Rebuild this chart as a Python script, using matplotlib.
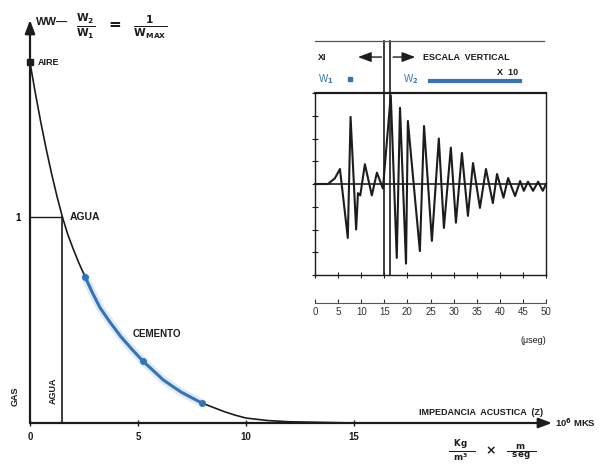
import matplotlib.pyplot as plt

plt.rcParams['font.family'] = ['Liberation Sans', 'DejaVu Sans']
plt.rcParams['mathtext.default'] = 'bf'

# curva principal: impedancia acustica Z (10^6 MKS) frente a W
z_imp = [0, 0.25, 0.5, 0.75, 1.0, 1.25, 1.5, 1.75, 2.0, 2.25, 2.55, 2.9, 3.24,
         3.7, 4.2, 4.7, 5.23, 5.7, 6.16, 6.6, 7.0, 7.5, 7.96, 8.5, 9.0, 9.5,
         10.0, 11.0, 12.0, 13.5, 15.0]
w_rel = [1.75, 1.6, 1.46, 1.33, 1.21, 1.1, 1.0, 0.915, 0.845, 0.78, 0.71, 0.63,
         0.56, 0.49, 0.42, 0.36, 0.30, 0.255, 0.21, 0.178, 0.15, 0.122, 0.097,
         0.075, 0.055, 0.038, 0.024, 0.012, 0.006, 0.003, 0.0]
# tramo del cemento (azul)
z_cem = [2.55, 2.9, 3.24, 3.7, 4.2, 4.7, 5.23, 5.7, 6.16, 6.6, 7.0, 7.5, 7.96]
w_cem = [0.71, 0.63, 0.56, 0.49, 0.42, 0.36, 0.30, 0.255, 0.21, 0.178, 0.15,
         0.122, 0.097]
z_agua = 1.5
w_aire = 1.75
z_ticks = [0, 5, 10, 15]

# forma de onda del recuadro (microsegundos)
t_us = [0, 2.8, 4.3, 5.4, 7.1, 7.7, 8.9, 9.3, 9.8, 10.8, 12.3, 13.4, 14.7,
        16.4, 17.7, 18.4, 19.7, 20.1, 22.7, 23.6, 25.3, 26.8, 27.9, 29.4,
        30.5, 31.8, 33.1, 34.2, 35.7, 37.0, 38.5, 39.4, 40.8, 41.8, 43.3,
        44.4, 45.2, 46.1, 47.2, 48.3, 49.3, 50]
amp = [0, 0, 0.25, 0.66, -2.37, 2.95, -2.0, -0.4, -0.5, 0.87, -0.5, 0.5, -0.2,
       3.9, -3.25, 3.35, -3.5, 2.77, -2.95, 2.55, -2.5, 2.0, -1.93, 1.6,
       -1.7, 1.36, -1.4, 0.92, -1.05, 0.66, -0.84, 0.44, -0.6, 0.26, -0.53,
       0.13, -0.3, 0.1, -0.3, 0.1, -0.3, 0.0]
t_ticks = list(range(0, 51, 5))
t_win = [15, 16.3]

BLUE = '#3574b8'
INK = '#1c1c1c'

fig = plt.figure(figsize=(6, 4.66), dpi=100)
W, H = 600, 466


def px(x, y):
    return x / W, 1 - y / H


# ---- grafico principal ----
ax = fig.add_axes([30 / W, 43 / H, 522 / W, 403 / H])
ax.set_xlim(0, 522 / 21.6)
ax.set_ylim(0, 403 / 206)
for s in ax.spines.values():
    s.set_visible(False)

arr = dict(arrowstyle='-|>,head_length=0.8,head_width=0.3', color=INK, lw=1.6,
           shrinkA=0, shrinkB=0)
ax.annotate('', xy=(522 / 21.6, 0), xytext=(0, 0), arrowprops=arr)
ax.annotate('', xy=(0, 403 / 206), xytext=(0, 0), arrowprops=arr)

ax.set_xticks(z_ticks)
ax.set_xticklabels([str(v) for v in z_ticks], fontsize=7, fontweight='bold')
ax.tick_params(axis='x', direction='inout', length=5, width=1, pad=4, colors=INK)
ax.set_yticks([1])
ax.set_yticklabels(['1'], fontsize=7, fontweight='bold')
ax.tick_params(axis='y', length=0, pad=7)

ax.plot(z_imp, w_rel, color=INK, lw=1.2)
ax.plot(z_cem, w_cem, color=BLUE, lw=6, alpha=0.15, solid_capstyle='round')
ax.plot(z_cem, w_cem, color=BLUE, lw=2.2)
ax.plot([z_cem[0], z_cem[6], z_cem[-1]], [w_cem[0], w_cem[6], w_cem[-1]], 'o',
        color=BLUE, ms=4)
ax.plot([0], [w_aire], 's', color=INK, ms=4, clip_on=False)

ax.plot([0, z_agua], [1, 1], color=INK, lw=1)
ax.plot([z_agua, z_agua], [0, 1], color=INK, lw=1.2)

tkw = dict(fontsize=6.5, fontweight='bold', color=INK)
ax.text(0.35, w_aire, 'AIRE', va='center', ha='left', **tkw)
ax.text(1.85, 1.0, 'AGUA', va='center', ha='left', fontsize=7.5, fontweight='bold', color=INK)
ax.text(4.77, 0.43, 'CEMENTO', va='center', ha='left', fontsize=7, fontweight='bold', color=INK)
ax.text(-0.7, 0.13, 'GAS', rotation=90, va='center', ha='center', **tkw)
ax.text(1.06, 0.155, 'AGUA', rotation=90, va='center', ha='center', **tkw)
ax.text(23.75, 0.05, 'IMPEDANCIA  ACUSTICA  (Z)', va='center', ha='right', **tkw)
ax.text(24.3, 0, '10$^6$ MKS', va='center', ha='left', fontsize=6.8,
        fontweight='bold', color=INK, clip_on=False)

fig.text(*px(492, 451),
         r'$\frac{\ \ Kg\ \ }{\ \ m^3\ \ }\ \ \times\ \ \frac{\ \ \ m\ \ \ }{\ \ seg\ \ }$',
         ha='center', va='center', fontsize=9, color=INK)
fig.text(*px(36, 22), 'WW—', ha='left', va='center', fontsize=8, fontweight='bold', color=INK)
fig.text(*px(76, 26), r'$\frac{W_2}{W_1}\ \ =\ \ \frac{1}{W_{MAX}}$', ha='left',
         va='center', fontsize=11, color=INK)

# ---- recuadro ----
ax2 = fig.add_axes([315 / W, (H - 275) / H, 231 / W, 182 / H])
ax2.set_xlim(0, 50)
ax2.set_ylim(-4, 4)
for s in ax2.spines.values():
    s.set_color(INK)
    s.set_linewidth(1)
ax2.spines['top'].set_linewidth(1.6)
ax2.set_xticks(t_ticks)
ax2.set_xticklabels([])
ax2.set_yticks(range(-4, 5))
ax2.set_yticklabels([])
ax2.tick_params(direction='inout', length=5, width=0.8, colors=INK)

ax2.axhline(0, color=INK, lw=1.2)
ax2.plot(t_us, amp, color=INK, lw=1.5, clip_on=False)

for tv in t_win:
    ax2.plot([tv, tv], [-4, 6.3], color=INK, lw=1.2, clip_on=False)
ax2.plot([0, 49.6], [6.3, 6.3], color='#555555', lw=0.9, clip_on=False)

ax2.annotate('', xy=(8.7, 5.58), xytext=(15, 5.58), annotation_clip=False,
             arrowprops=dict(arrowstyle='-|>,head_length=0.8,head_width=0.3',
                             color=INK, lw=1))
ax2.annotate('', xy=(22.3, 5.58), xytext=(16.3, 5.58), annotation_clip=False,
             arrowprops=dict(arrowstyle='-|>,head_length=0.8,head_width=0.3',
                             color=INK, lw=1))
ax2.text(0.6, 5.58, 'XI', va='center', ha='left', **tkw)
ax2.text(23.4, 5.58, 'ESCALA  VERTICAL', va='center', ha='left', **tkw)
ax2.text(39.4, 4.92, 'X  10', va='center', ha='left', **tkw)
ax2.text(0.6, 4.6, 'W$_1$', va='center', ha='left', fontsize=7, color=BLUE)
ax2.plot([7.6], [4.6], 's', color=BLUE, ms=2.5, clip_on=False)
ax2.text(19, 4.6, 'W$_2$', va='center', ha='left', fontsize=7, color=BLUE)
ax2.plot([24.9, 44.4], [4.53, 4.53], color=BLUE, lw=3, clip_on=False)

sec = ax2.secondary_xaxis(-0.154)
sec.set_xticks(t_ticks)
sec.set_xticklabels([str(v) for v in t_ticks], fontsize=7)
sec.tick_params(direction='in', length=3, width=0.8, pad=3, colors='#333333')
sec.spines['bottom'].set_color('#555555')
sec.spines['bottom'].set_linewidth(0.8)
ax2.text(50, -6.86, '(\u03bcseg)', va='center', ha='right', fontsize=6.5, color=INK)

fig.savefig('out.png', dpi=100)
